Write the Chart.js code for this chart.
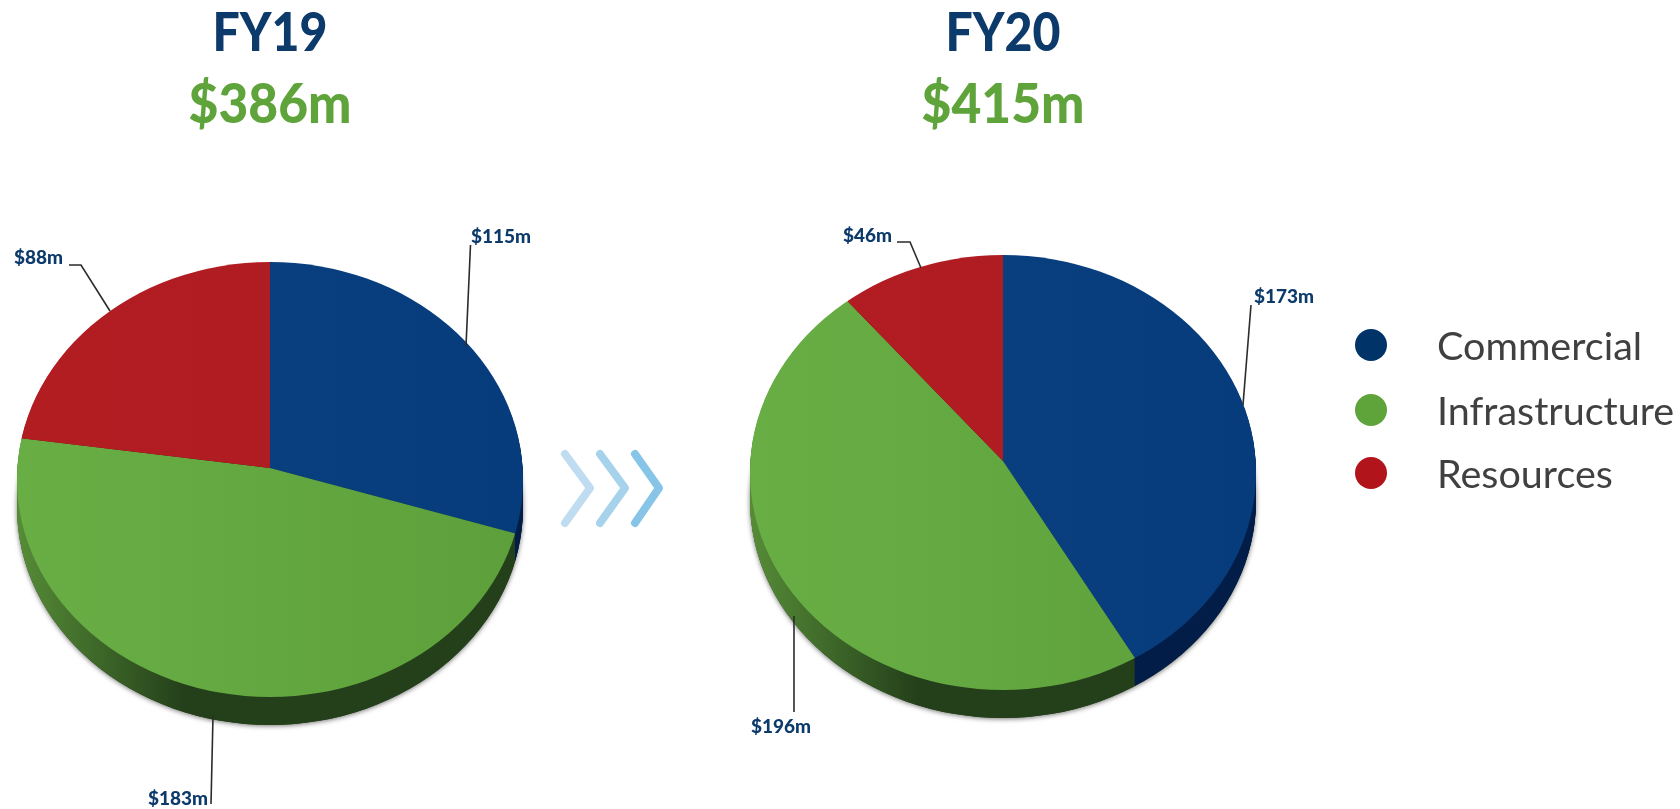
<!DOCTYPE html>
<html>
<head>
<meta charset="utf-8">
<title>FY19 vs FY20</title>
<script src="https://cdn.jsdelivr.net/npm/chart.js@4"></script>
<style>
html,body{margin:0;padding:0;background:#fff;width:1680px;height:809px;overflow:hidden;font-family:Lato,"Open Sans",sans-serif}
canvas{position:absolute;left:0;top:0}
.t{position:absolute;font-weight:900;white-space:nowrap;line-height:1}
.lg{position:absolute;left:1437px;color:#404040;font-size:39.5px;line-height:1;transform:translateY(-50%);white-space:nowrap}
.dot{position:absolute;left:1355px;width:32px;height:32px;border-radius:50%;transform:translateY(-50%)}
svg{position:absolute;left:0;top:0}
</style>
</head>
<body>
<canvas id="c1" width="1680" height="809"></canvas>
<canvas id="c2" width="1680" height="809"></canvas>
<svg width="1680" height="809" fill="none" stroke-width="8" stroke-linecap="round" stroke-linejoin="round">
  <polyline stroke="#bfdcf0" points="565,454 590,488 565,523"/>
  <polyline stroke="#a6d2ec" points="600,454 625,488 600,523"/>
  <polyline stroke="#86c5e8" points="635,454 659,488 635,523"/>
</svg>
<div id="titles"></div>
<div id="legend"></div>
<script>
const categories = ["Commercial", "Infrastructure", "Resources"];
const fy19Values = [115, 183, 88];
const fy20Values = [173, 196, 46];
const periods = ["FY19", "FY20"];
const totals = ["$386m", "$415m"];

const faceColors = [["#0a4280","#073c7c"],["#69ae45","#5da03b"],["#b21d22","#ac1b20"]];
const sideColors = [["#0a2c5c","#021d47"],["#568c37","#24401a"],["#6d1014","#5a0c10"]];
const legendColors = ["#003468","#5fa33b","#b2141c"];

/* layout of each pie: apex, face ellipse, extrusion depth, label + leader lines */
const pies = [
  {ax:270, ay:468, ecy:479.5, rx:253, ry:217.5, depth:28, values:fy19Values, leaders:[
    {x:471, y:237, align:"left",  pts:[[470.5,245],[466,346]]},
    {x:208, y:799, align:"right", pts:[[213,716],[211,804]]},
    {x:63,  y:258, align:"right", pts:[[69,265],[81,265],[110,311]]}
  ]},
  {ax:1003, ay:461, ecy:472.5, rx:253, ry:217.5, depth:28, values:fy20Values, leaders:[
    {x:1254, y:297, align:"left",  pts:[[1251,305],[1243,405]]},
    {x:811,  y:727, align:"right", pts:[[794,616],[794,712]]},
    {x:892,  y:236, align:"right", pts:[[897,242],[910,242],[921,268]]}
  ]}
];

const titles = document.getElementById("titles");
pies.forEach((p,i)=>{
  titles.insertAdjacentHTML("beforeend",
    `<div class="t" style="left:${p.ax}px;top:6px;font-size:50px;color:#0b3a6b;transform:translateX(-50%) scale(.965,1.06)">${periods[i]}</div>`+
    `<div class="t" style="left:${p.ax}px;top:76px;font-size:52px;color:#5fa33b;transform:translateX(-50%) scale(.99,1.06)">${totals[i]}</div>`);
});
const legend = document.getElementById("legend");
const legendY = [345,410,473];
categories.forEach((c,i)=>{
  legend.insertAdjacentHTML("beforeend",
    `<div class="dot" style="top:${legendY[i]}px;background:${legendColors[i]}"></div>`+
    `<div class="lg" style="top:${legendY[i]}px">${c}</div>`);
});

const pie3d = {
  id:"pie3d",
  beforeDatasetsDraw(chart,args,o){
    const {ctx} = chart, p = o.pie, arcs = chart.getDatasetMeta(0).data;
    const k = p.ry/p.rx;
    const ell = (dy)=>{ctx.beginPath();ctx.ellipse(p.ax,p.ecy+dy,p.rx,p.ry,0,0,Math.PI*2);};
    // soft shadow under the extruded body
    ctx.save();
    ctx.shadowColor="rgba(0,0,0,.55)";ctx.shadowBlur=5;ctx.shadowOffsetY=1;
    ctx.fillStyle="#24401a";ell(p.depth);ctx.fill();
    ctx.restore();
    // extruded side, swept from each slice's geometry
    for(let dy=p.depth;dy>0;dy--){
      arcs.forEach((a,i)=>{
        ctx.save();
        ell(dy);ctx.clip();
        ctx.translate(a.x,a.y+dy);ctx.scale(1,k);
        const g=ctx.createLinearGradient(-p.rx,0,p.rx,0);
        g.addColorStop(0,sideColors[i][0]);
        g.addColorStop(.33,sideColors[i][1]);
        g.addColorStop(1,sideColors[i][1]);
        ctx.fillStyle=g;
        ctx.beginPath();ctx.moveTo(0,0);
        ctx.arc(0,0,a.outerRadius,a.startAngle,a.endAngle);
        ctx.closePath();ctx.fill();
        ctx.restore();
      });
    }
    ctx.save();
    ell(0);ctx.clip();
    ctx.translate(p.ax,p.ay);ctx.scale(1,k);ctx.translate(-p.ax,-p.ay);
  },
  afterDatasetsDraw(chart,args,o){
    const {ctx} = chart, p = o.pie;
    ctx.restore();
    ctx.strokeStyle="#2b2b2b";ctx.lineWidth=1.6;
    p.leaders.forEach((l,i)=>{
      ctx.beginPath();
      l.pts.forEach((q,j)=>j?ctx.lineTo(q[0],q[1]):ctx.moveTo(q[0],q[1]));
      ctx.stroke();
      ctx.fillStyle="#0b3a6b";
      ctx.font='900 19px Lato';
      ctx.textAlign=l.align;ctx.textBaseline="middle";
      ctx.fillText("$"+p.values[i]+"m",l.x,l.y);
    });
  }
};

pies.forEach((p,i)=>{
  new Chart(document.getElementById("c"+(i+1)),{
    type:"pie",
    data:{labels:categories,datasets:[{
      data:p.values,
      clip:false,
      borderWidth:0,
      backgroundColor(c){
        const g=c.chart.ctx.createLinearGradient(p.ax-p.rx,0,p.ax+p.rx,0);
        g.addColorStop(0,faceColors[c.dataIndex][0]);
        g.addColorStop(1,faceColors[c.dataIndex][1]);
        return g;
      }
    }]},
    options:{
      responsive:false,animation:false,radius:420,
      layout:{padding:{
        left:Math.max(0,2*p.ax-1680),right:Math.max(0,1680-2*p.ax),
        top:Math.max(0,2*p.ay-809),bottom:Math.max(0,809-2*p.ay)
      }},
      plugins:{legend:{display:false},tooltip:{enabled:false},pie3d:{pie:p}}
    },
    plugins:[pie3d]
  });
});
</script>
</body>
</html>
